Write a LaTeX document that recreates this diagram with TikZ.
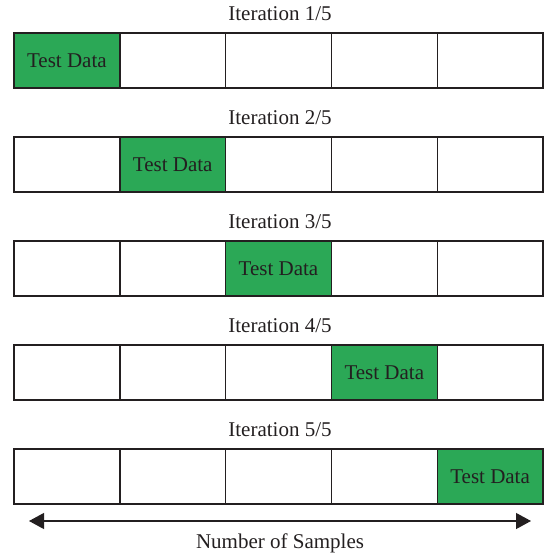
\documentclass[tikz,border=0pt]{standalone}
\usepackage{fontspec}
\setmainfont{Liberation Serif}
\usetikzlibrary{positioning, arrows.meta}
\definecolor{testgreen}{RGB}{43,168,86}
\definecolor{ink}{RGB}{35,31,32}

\begin{document}
\begin{tikzpicture}[x=1pt, y=-1pt, font=\fontsize{21}{25}\selectfont, text=ink,
	cell/.style={draw=ink, line width=1.4pt, minimum width=105.8pt, minimum height=55pt, inner sep=0pt, outer sep=0pt},
	testcell/.style={cell, fill=testgreen},
	axis_line/.style={line width=1.2pt, draw=ink, {Triangle[length=15pt, width=16pt]}-{Triangle[length=15pt, width=16pt]}}]
	\useasboundingbox (0,0) rectangle (544,556);
	% one row of five folds per iteration
	\foreach \r in {1,...,5} {
		\node (iter\r) at (280, 14+104*\r-104) {Iteration \r/5};
		\foreach \c in {1,...,5} {
			\ifnum\c=\r \def\sty{testcell}\else\def\sty{cell}\fi
			\node[\sty] (box\r-\c) at (14+105.8*\c-52.9, 60.5+104*\r-104) {\ifnum\c=\r Test Data\fi};
		};
	};
	% sample axis
	\coordinate (left) at (29,521);
	\coordinate (right) at (531,521);
	\draw[axis_line] (left) -- (right);
	\node (samples) at (280,543) {Number of Samples};
\end{tikzpicture}
\end{document}
